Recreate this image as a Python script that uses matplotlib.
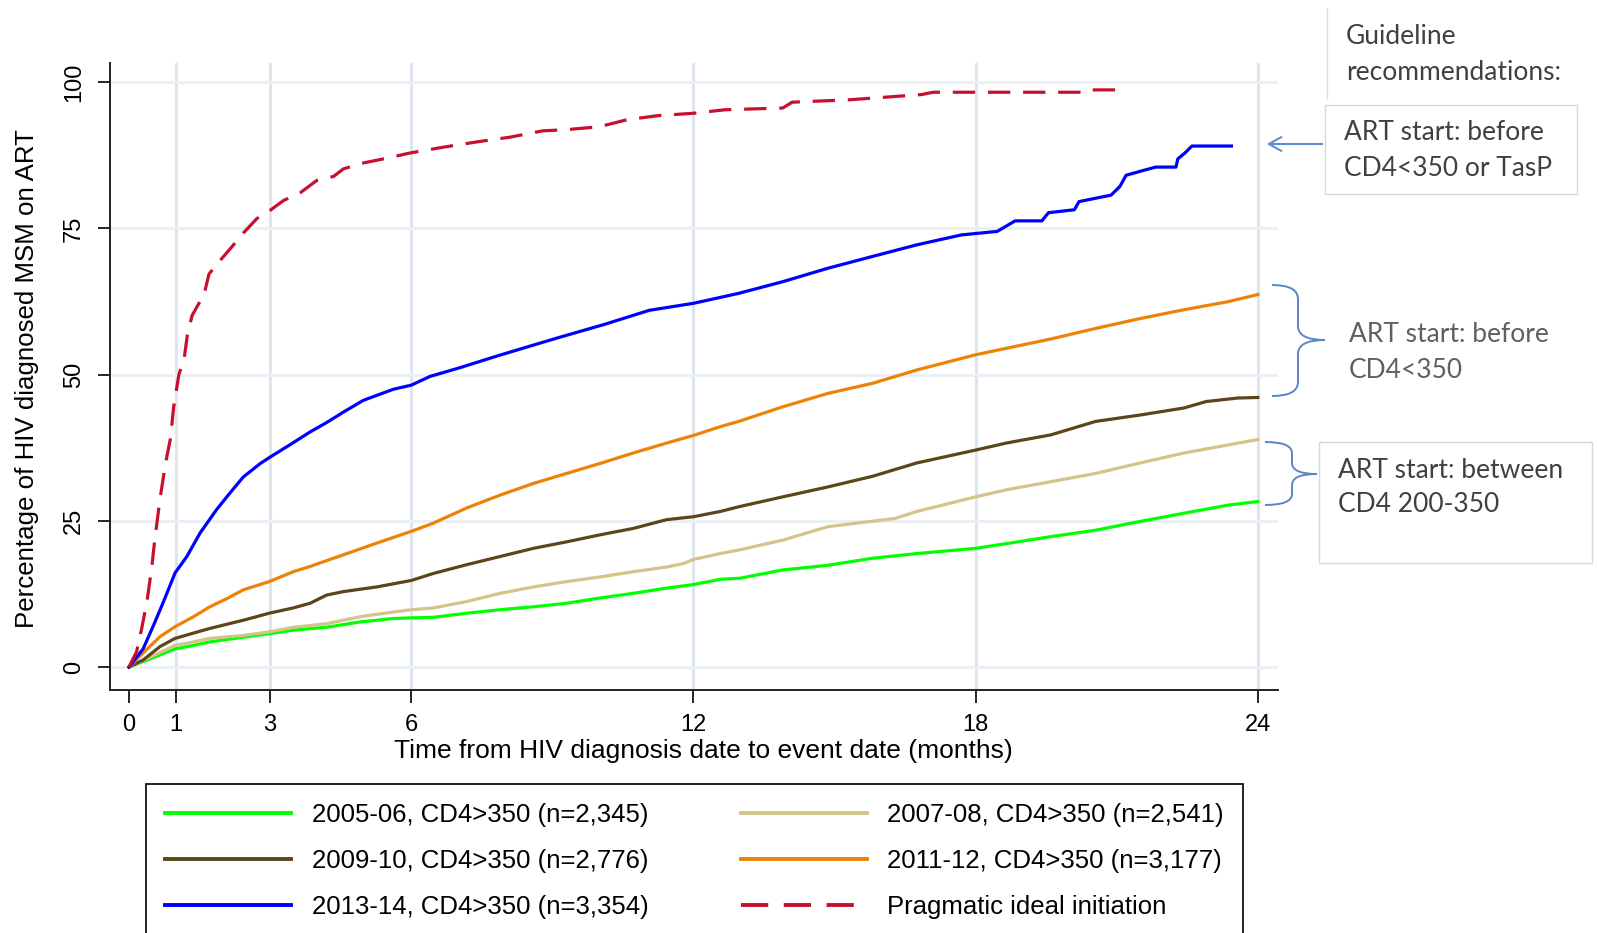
import matplotlib.pyplot as plt
from matplotlib.path import Path
from matplotlib.patches import PathPatch, Rectangle, FancyArrowPatch

W, H = 1597, 933

# months since diagnosis, percentage on ART
t_0506 = [0, 0.45, 0.98, 1.37, 1.72, 2.43, 2.98, 3.49, 4.2, 4.91, 5.62, 6.0, 6.47, 7.18, 7.89,
          8.6, 9.3, 10.01, 10.72, 11.43, 12.0, 12.57, 13.0, 13.9, 14.86, 15.8, 16.75, 18.0,
          18.65, 19.6, 20.55, 21.5, 22.43, 23.38, 24.0]
p_0506 = [0, 1.4, 3.1, 3.7, 4.3, 5.1, 5.7, 6.3, 6.8, 7.7, 8.3, 8.4, 8.5, 9.2, 9.8,
          10.3, 10.9, 11.8, 12.6, 13.5, 14.1, 15.0, 15.2, 16.6, 17.4, 18.6, 19.4, 20.3,
          21.1, 22.3, 23.4, 24.9, 26.3, 27.7, 28.3]

t_0708 = [0, 0.45, 0.98, 1.37, 1.72, 2.43, 2.98, 3.49, 4.2, 4.91, 5.62, 6.0, 6.47, 7.18, 7.89,
          8.6, 9.3, 10.01, 10.72, 11.43, 11.79, 12.0, 12.57, 12.96, 13.9, 14.86, 16.28, 16.75,
          18.0, 18.65, 19.6, 20.55, 21.5, 22.43, 23.38, 24.0]
p_0708 = [0, 1.7, 3.7, 4.3, 4.9, 5.4, 6.0, 6.8, 7.4, 8.6, 9.4, 9.8, 10.1, 11.2, 12.6,
          13.7, 14.6, 15.4, 16.3, 17.1, 17.7, 18.4, 19.4, 20.0, 21.7, 24.0, 25.4, 26.6,
          29.1, 30.3, 31.7, 33.1, 34.9, 36.6, 38.0, 38.9]

t_0910 = [0, 0.3, 0.66, 0.98, 1.37, 1.72, 2.43, 2.98, 3.49, 3.85, 4.2, 4.56, 5.27, 6.0, 6.47,
          7.18, 7.89, 8.6, 9.3, 10.01, 10.72, 11.43, 12.0, 12.57, 12.96, 13.9, 14.86, 15.8,
          16.75, 18.0, 18.65, 19.6, 20.55, 21.5, 22.43, 22.9, 23.57, 24.0]
p_0910 = [0, 1.2, 3.5, 4.9, 5.8, 6.6, 8.0, 9.2, 10.1, 10.9, 12.3, 12.9, 13.7, 14.8, 16.0,
          17.5, 18.9, 20.3, 21.4, 22.6, 23.7, 25.2, 25.7, 26.6, 27.4, 29.1, 30.8, 32.6,
          34.9, 37.1, 38.3, 39.7, 42.0, 43.1, 44.3, 45.4, 46.0, 46.1]

t_1112 = [0, 0.3, 0.66, 0.98, 1.37, 1.72, 2.08, 2.43, 2.98, 3.49, 3.85, 4.56, 5.27, 6.0, 6.47,
          7.18, 7.89, 8.6, 9.3, 10.01, 10.72, 11.43, 12.0, 12.57, 12.96, 13.9, 14.86, 15.8,
          16.75, 18.0, 18.65, 19.6, 20.55, 21.5, 22.43, 23.38, 24.0]
p_1112 = [0, 2.4, 5.2, 6.9, 8.6, 10.3, 11.7, 13.2, 14.6, 16.3, 17.2, 19.2, 21.2, 23.2, 24.6,
          27.2, 29.4, 31.4, 33.1, 34.8, 36.6, 38.3, 39.6, 41.1, 42.0, 44.5, 46.8, 48.5,
          50.8, 53.4, 54.5, 56.1, 57.9, 59.6, 61.1, 62.5, 63.7]

t_1314 = [0, 0.3, 0.52, 0.73, 0.98, 1.23, 1.51, 1.86, 2.15, 2.43, 2.79, 3.0, 3.42, 3.85, 4.2,
          4.56, 4.98, 5.62, 6.0, 6.4, 7.04, 7.75, 8.45, 9.16, 10.11, 11.06, 12.0, 12.96, 13.9,
          14.86, 15.8, 16.75, 17.7, 18.46, 18.84, 19.41, 19.55, 20.1, 20.2, 20.88, 21.07,
          21.2, 21.6, 21.83, 22.26, 22.3, 22.45, 22.6, 23.44]
p_1314 = [0, 3.1, 7.1, 11.1, 16.1, 18.9, 22.9, 26.9, 29.8, 32.5, 34.8, 35.9, 38.0, 40.2, 41.8,
          43.6, 45.6, 47.5, 48.2, 49.7, 51.2, 53.0, 54.7, 56.4, 58.6, 61.0, 62.2, 63.9, 65.9,
          68.2, 70.2, 72.2, 73.9, 74.5, 76.3, 76.3, 77.7, 78.2, 79.6, 80.7, 82.2,
          84.1, 85.0, 85.5, 85.5, 86.9, 87.9, 89.1, 89.1]

t_ideal = [0, 0.16, 0.27, 0.38, 0.48, 0.55, 0.66, 0.78, 0.88, 0.95, 1.06, 1.17, 1.24, 1.34,
           1.48, 1.59, 1.7, 1.87, 2.16, 2.44, 2.72, 3.0, 3.29, 3.64, 3.99, 4.35, 4.56, 4.98,
           5.41, 5.97, 6.68, 7.39, 8.09, 8.8, 9.3, 10.0, 10.59, 11.25, 12.0, 12.67, 13.9,
           14.1, 15.3, 16.85, 17.1, 20.36, 20.45, 21.12]
p_ideal = [0, 2.6, 6.6, 11.1, 16.8, 21.9, 28.8, 35.0, 39.0, 44.5, 50.0, 52.6, 56.7, 60.1,
           62.1, 63.5, 67.2, 68.9, 71.6, 74.3, 76.7, 78.1, 79.8, 81.1, 83.2, 83.9, 85.2, 86.2,
           86.9, 87.9, 88.9, 89.8, 90.6, 91.7, 91.9, 92.4, 93.6, 94.3, 94.7, 95.3, 95.6,
           96.6, 97.0, 97.9, 98.3, 98.3, 98.7, 98.7]

labels = ['2005-06, CD4>350 (n=2,345)', '2007-08, CD4>350 (n=2,541)',
          '2009-10, CD4>350 (n=2,776)', '2011-12, CD4>350 (n=3,177)',
          '2013-14, CD4>350 (n=3,354)', 'Pragmatic ideal initiation']

x_ticks = [0, 1, 3, 6, 12, 18, 24]
x_grid = [1, 3, 6, 12, 18, 24]
y_ticks = [0, 25, 50, 75, 100]

plt.rcParams['font.family'] = ['Liberation Sans', 'DejaVu Sans']


def fx(x):
    return x / W


def fy(y):
    return 1 - y / H


fig = plt.figure(figsize=(W / 100, H / 100), dpi=100)
ax = fig.add_axes([fx(110), fy(690), (1278 - 110) / W, (690 - 63) / H])
ax.set_xlim(-0.404, 24.43)
ax.set_ylim(-3.93, 103.3)

for g in x_grid:
    ax.axvline(g, color='#dfe5ef', lw=2.2, zorder=0)
for g in y_ticks:
    ax.axhline(g, color='#eaf0f3', lw=2.2, zorder=0)

lw = 2.3
l1, = ax.plot(t_0506, p_0506, color='#00FF00', lw=lw, label=labels[0])
l2, = ax.plot(t_0708, p_0708, color='#D4C48A', lw=lw, label=labels[1])
l3, = ax.plot(t_0910, p_0910, color='#5E4519', lw=lw, label=labels[2])
l4, = ax.plot(t_1112, p_1112, color='#EE8207', lw=lw, label=labels[3])
l5, = ax.plot(t_1314, p_1314, color='#0000FF', lw=lw, label=labels[4])
l6, = ax.plot(t_ideal, p_ideal, color='#C8102E', lw=lw, dashes=(7, 4), label=labels[5])

for s in ['top', 'right']:
    ax.spines[s].set_visible(False)
for s in ['left', 'bottom']:
    ax.spines[s].set_linewidth(1.4)
    ax.spines[s].set_color('#222222')

ax.set_xticks(x_ticks)
ax.set_yticks(y_ticks)
ax.tick_params(axis='x', length=9, width=1.2, pad=8, labelsize=17)
ax.tick_params(axis='y', length=9, width=1.2, pad=9, labelsize=17, labelrotation=90)
for lab in ax.get_yticklabels():
    lab.set_va('center')

ax.set_xlabel('Time from HIV diagnosis date to event date (months)', fontsize=19)
ax.xaxis.set_label_coords((703 - 110) / 1168, (690 - 739) / 627)
ax.set_ylabel('Percentage of HIV diagnosed MSM on ART', fontsize=18.6)
ax.yaxis.set_label_coords((39 - 110) / 1168, 0.497)

# legend, two columns, box runs off the bottom of the figure
leg = fig.legend([l1, l3, l5, l2, l4, l6], [labels[0], labels[2], labels[4],
                 labels[1], labels[3], labels[5]],
                 loc='upper left', bbox_to_anchor=(fx(146), fy(784), (1243 - 146) / W, 0),
                 mode='expand', ncol=2, fontsize=18.5, handlelength=4.9,
                 handletextpad=0.8, labelspacing=0.86, borderpad=0.75,
                 borderaxespad=0, fancybox=False, edgecolor='#111111', framealpha=1)
leg.get_frame().set_linewidth(1.3)
for h in leg.get_lines():
    h.set_linewidth(2.8)

# guideline annotations on the right
note_font = ['Lato', 'DejaVu Sans']
fs = 19
fig.add_artist(plt.Line2D([fx(1327), fx(1327)], [fy(8), fy(98)], color='#dcdcdc', lw=1))
fig.text(fx(1346), fy(37), 'Guideline', fontsize=fs, family=note_font, color='#404040', va='center')
fig.text(fx(1346), fy(72), 'recommendations:', fontsize=fs, family=note_font, color='#404040', va='center')

fig.add_artist(Rectangle((fx(1325), fy(194)), (1577 - 1325) / W, (194 - 105) / H,
                         transform=fig.transFigure, fill=False, ec='#d9d9d9', lw=1))
fig.text(fx(1344), fy(133), 'ART start: before', fontsize=fs, family=note_font, color='#404040', va='center')
fig.text(fx(1344), fy(169), 'CD4<350 or TasP', fontsize=fs, family=note_font, color='#404040', va='center')
fig.add_artist(FancyArrowPatch((fx(1325), fy(144)), (fx(1264), fy(144)),
                               transform=fig.transFigure, arrowstyle='->,head_length=9,head_width=5',
                               color='#5b8fd2', lw=1.5))

fig.text(fx(1349), fy(335), 'ART start: before', fontsize=fs, family=note_font, color='#606060', va='center')
fig.text(fx(1349), fy(371), 'CD4<350', fontsize=fs, family=note_font, color='#606060', va='center')

fig.add_artist(Rectangle((fx(1319), fy(563)), (1592 - 1319) / W, (563 - 442) / H,
                         transform=fig.transFigure, fill=False, ec='#d9d9d9', lw=1))
fig.text(fx(1338), fy(470), 'ART start: between', fontsize=fs, family=note_font, color='#404040', va='center')
fig.text(fx(1338), fy(505), 'CD4 200-350', fontsize=fs, family=note_font, color='#404040', va='center')


def brace(x0, xm, xt, ytop, ytip, ybot, r=14):
    pts = [(x0, ytop), (xm, ytop), (xm, ytop + r), (xm, ytip - r), (xm, ytip), (xt, ytip),
           (xm, ytip), (xm, ytip + r), (xm, ybot - r), (xm, ybot), (x0, ybot)]
    codes = [Path.MOVETO, Path.CURVE3, Path.CURVE3, Path.LINETO, Path.CURVE3, Path.CURVE3,
             Path.CURVE3, Path.CURVE3, Path.LINETO, Path.CURVE3, Path.CURVE3]
    verts = [(fx(a), fy(b)) for a, b in pts]
    fig.add_artist(PathPatch(Path(verts, codes), transform=fig.transFigure,
                             fill=False, ec='#5a86c5', lw=1.4))


brace(1272, 1298, 1325, 285, 340, 396)
brace(1265, 1292, 1317, 442, 474, 505, r=11)

fig.savefig('out.png', dpi=100)
